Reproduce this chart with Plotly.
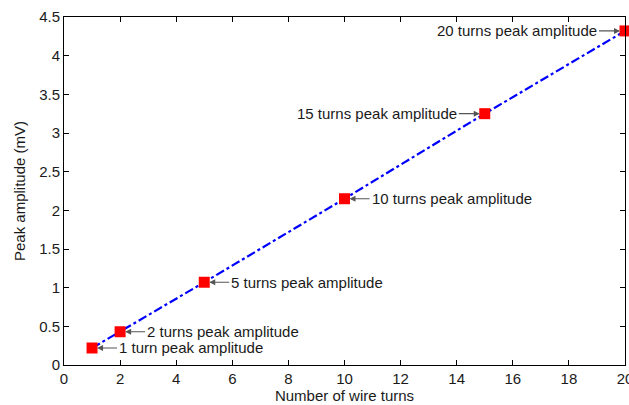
import plotly.graph_objects as go

turns = [1, 2, 5, 10, 15, 20]
amplitude = [0.22, 0.43, 1.07, 2.15, 3.25, 4.32]
labels = ["1 turn peak amplitude", "2 turns peak amplitude", "5 turns peak amplitude",
          "10 turns peak amplitude", "15 turns peak amplitude", "20 turns peak amplitude"]
label_side = ["right", "right", "right", "right", "left", "left"]

FONT = "Liberation Sans, Arial"

fig = go.Figure()
fig.add_trace(go.Scatter(
    x=turns, y=amplitude, mode="lines+markers",
    line=dict(color="#0000ff", width=2.2, dash="dashdot"),
    marker=dict(symbol="square", color="#ff0000", size=11, line=dict(width=0)),
    showlegend=False, cliponaxis=False,
))

for xv, yv, t, side in zip(turns, amplitude, labels, label_side):
    if side == "right":
        ax, anchor = 25, "left"
    else:
        ax, anchor = -26, "right"
    fig.add_annotation(
        x=xv, y=yv, text=t, showarrow=True, ax=ax, ay=0, xanchor=anchor,
        arrowhead=2, arrowsize=1, arrowwidth=1.2, arrowcolor="#555555", standoff=5,
        font=dict(family=FONT, size=15, color="#1a1a1a"),
    )

axis_common = dict(
    showline=True, linecolor="black", linewidth=1, mirror="ticks",
    ticks="inside", ticklen=5, tickcolor="black", showgrid=False, zeroline=False,
    ticklabeloverflow="allow", automargin=False,
    tickfont=dict(family=FONT, size=15, color="#1a1a1a"),
)
fig.update_xaxes(range=[0, 20], dtick=2, tick0=0,
                 title=dict(text="Number of wire turns", standoff=4,
                            font=dict(family=FONT, size=15, color="#1a1a1a")),
                 **axis_common)
fig.update_yaxes(range=[0, 4.5], dtick=0.5, tick0=0,
                 title=dict(text="Peak amplitude (mV)", standoff=9,
                            font=dict(family=FONT, size=15, color="#1a1a1a")),
                 **axis_common)
fig.update_layout(
    width=629, height=405, margin=dict(l=64, r=4, t=17, b=40),
    plot_bgcolor="white", paper_bgcolor="white",
)
fig.write_html("out.html")
